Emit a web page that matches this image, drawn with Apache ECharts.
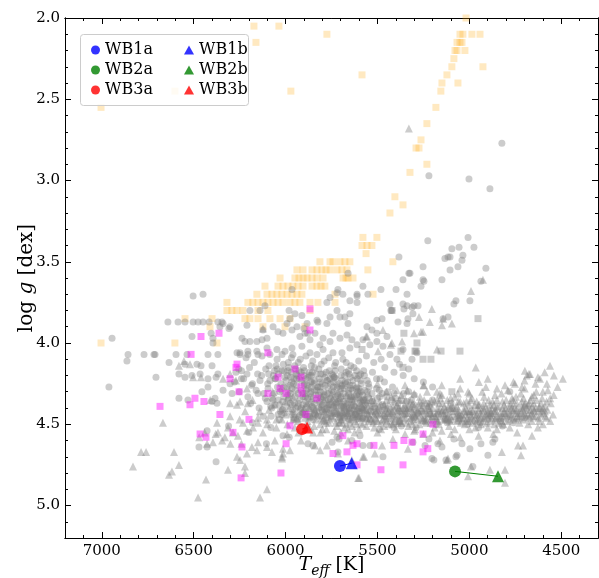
<!DOCTYPE html>
<html>
<head>
<meta charset="utf-8">
<script src="https://cdn.jsdelivr.net/npm/echarts@6/dist/echarts.min.js"></script>
<style>
html,body{margin:0;padding:0;background:#fff;}
#chart{width:599px;height:578px;}
</style>
</head>
<body>
<div id="chart"></div>
<script>
// ---------- data ----------
var xTicks = [4500, 5000, 5500, 6000, 6500, 7000];
var yTicks = [2.0, 2.5, 3.0, 3.5, 4.0, 4.5, 5.0];
var xMinorTicks = [4300,4400,4500,4600,4700,4800,4900,5000,5100,5200,5300,5400,5500,5600,5700,5800,5900,6000,6100,6200,6300,6400,6500,6600,6700,6800,6900,7000,7100,7200];
var yMinorTicks = [2.0,2.1,2.2,2.3,2.4,2.5,2.6,2.7,2.8,2.9,3.0,3.1,3.2,3.3,3.4,3.5,3.6,3.7,3.8,3.9,4.0,4.1,4.2,4.3,4.4,4.5,4.6,4.7,4.8,4.9,5.0,5.1,5.2];

var orangeSquares = [
[6172,2.05],[6036,2.05],[6161,2.15],[5971,2.45],[7004,2.55],[6602,2.45],[5775,2.10],[5584,2.35],
[5018,2.00],[5051,2.10],[5035,2.10],[4986,2.10],[4942,2.10],[5067,2.15],[5051,2.15],[5040,2.15],
[5078,2.20],[5067,2.20],[5024,2.20],[5084,2.25],[5095,2.30],[4926,2.30],[5122,2.35],[5149,2.40],[5062,2.40],
[5155,2.45],[5182,2.55],[5231,2.65],[5263,2.75],[5290,2.80],[5274,2.80],[5231,2.90],[5323,2.95],
[5405,3.10],[5361,3.15],[5432,3.20],[5579,3.35],[5503,3.35],[5584,3.40],[5557,3.40],[5530,3.40],[5562,3.45],
[5416,3.50],[5813,3.50],[5758,3.50],[5742,3.50],[5704,3.50],[5677,3.50],[5650,3.50],
[5938,3.55],[5905,3.55],[5856,3.55],[5829,3.55],[5802,3.55],[5780,3.55],[5758,3.55],[5720,3.55],[5693,3.55],[5666,3.55],[5552,3.55],
[6030,3.60],[5949,3.60],[5927,3.60],[5905,3.60],[5883,3.60],[5856,3.60],[5829,3.60],[5796,3.60],[5687,3.60],[5660,3.60],[5633,3.60],[5671,3.60],
[6112,3.65],[6041,3.65],[6014,3.65],[5987,3.65],[5960,3.65],[5932,3.65],[5905,3.65],[5856,3.65],[5829,3.65],[5807,3.65],[5786,3.65],
[6156,3.70],[6101,3.70],[6074,3.70],[6047,3.70],[6020,3.70],[5992,3.70],[5965,3.70],[5938,3.70],[5911,3.70],[5731,3.70],[5524,3.70],
[6319,3.75],[6205,3.75],[6178,3.75],[6150,3.75],[6123,3.75],[6096,3.75],[6068,3.75],[6041,3.75],[6014,3.75],[5976,3.75],[5949,3.75],[5922,3.75],[5867,3.75],[5824,3.75],[5731,3.75],
[6319,3.80],[6292,3.80],[6265,3.80],[6232,3.80],[6150,3.80],[6096,3.80],[5867,3.80],
[6547,3.85],[6400,3.85],[6221,3.85],[6194,3.85],[6150,3.85],[6085,3.85],[6030,3.85],[5976,3.85],
[6411,3.90],[6123,3.90],[6003,3.90],[5894,3.90],
[7004,4.00],[6602,4.00],[6373,4.00]
];

var grayCircles = [
[6944,3.97],[6640,3.87],[6585,3.87],[6547,3.87],[6503,3.87],[6476,3.87],[6449,3.87],[6416,3.87],[6368,3.87],[6346,3.87],
[6509,3.96],[6405,3.94],[6395,3.97],[6395,4.00],[6308,3.91],[6503,3.71],[6449,3.70],[6302,3.90],[6210,3.89],[6340,3.88],[6357,3.90],
[6857,4.07],[6770,4.07],[6716,4.07],[6710,4.07],[6596,4.07],[6536,4.07],[6422,4.07],[6368,4.07],[6248,4.07],[6205,4.07],[6150,4.07],[6085,4.07],[6019,4.07],[5960,4.07],
[6863,4.11],[6634,4.12],[6547,4.13],[6482,4.13],[6460,4.14],[6400,4.14],[6705,4.21],[6580,4.19],[6547,4.21],[6509,4.20],[6465,4.19],
[6422,4.22],[6378,4.21],[6368,4.19],[6961,4.27],[6580,4.34],[6531,4.35],[6455,4.30],[6422,4.27],[6384,4.34],[6340,4.29],[6302,4.25],
[6291,4.31],[6427,4.54],[6471,4.64],[6427,4.64],[6378,4.73],[6400,4.36],[6373,4.37],[6270,4.18],[6240,4.22],[6255,4.16],
[6139,3.80],[6112,3.77],[6194,3.80],[5965,3.67],[5981,3.80],[5911,3.83],[5900,3.91],[5880,3.94],[5715,3.67],[5660,3.57],[5650,3.74],[5611,3.70],[5579,3.65],
[5481,3.67],[5399,3.67],[5339,3.70],[5361,3.61],[5323,3.57],[5252,3.53],[5247,3.62],[5263,3.65],[5149,3.61],[5133,3.48],[5116,3.47],
[4823,2.77],[5220,2.97],[5002,2.99],[4888,3.05],[5007,3.35],[5226,3.37],[5095,3.42],[5056,3.41],[4975,3.41],[5383,3.47],[5105,3.47],
[5040,3.49],[5035,3.46],[5105,3.55],[5062,3.53],[4910,3.54],[5329,3.57],[5252,3.61],[4937,3.62],[5432,3.76],[5427,3.80],[5356,3.79],
[5312,3.78],[5307,3.82],[5279,3.77],[5073,3.74],[5084,3.76],[4997,3.74],[5116,3.84],[5334,3.85],[5143,3.85],[5339,3.77],[5301,3.77],[5339,3.88],
[5611,3.71],[5552,3.70],[5421,3.80],[5361,3.76],[5388,3.87],[5611,3.75],[5720,3.80],[5758,3.84],[5704,3.84],[5660,3.88],[5775,3.88],[5824,3.87],
[5650,3.82],[5557,3.90],[5530,3.92],[5503,3.94],[5829,3.86],[5883,3.88],[5949,3.82],[5976,3.85],[5775,3.75],[5758,3.72],[5720,3.69],[5688,3.70],[5677,3.84],[5503,3.86],[5475,3.85],
[5611,4.01],[5639,3.98],[5666,3.95],[5704,3.97],[5742,3.94],[5758,3.99],[5796,3.97],[5813,4.01],[5840,3.94],[5867,3.98],[5894,3.94],[5922,3.96],
[5938,3.90],[5965,3.92],[5992,3.88],[6014,3.94],[6041,3.93],[6068,3.90],[6101,3.97],[6128,3.98],[6156,3.99],[6194,3.99],[6221,3.99],[6237,3.97],[6123,3.92],
[6264,4.06],[6248,4.06],[6205,4.05],[6156,4.05],[6101,4.03],[6047,4.04],[6003,4.05],[5965,4.03],[5911,4.02],[5867,4.06],[5829,4.07],[5796,4.04],[5742,4.06],[5693,4.06],[5650,4.03],
[5579,3.98],[5541,4.01],[5503,3.99],[5448,3.96],[5470,4.02],[5432,4.07],[5394,4.10],[5361,4.04],[5312,4.10],[5285,4.06],
[5520,4.12],[5460,4.15],[5410,4.18],[5360,4.20],[5300,4.22],[5250,4.24],[5200,4.27],[5480,4.10],[5380,4.13],[5330,4.16],
[6215,4.09],[6170,4.12],[6128,4.08],[6090,4.14],[6046,4.10],[6012,4.13],[5968,4.09],[5931,4.12],[5889,4.08],[5852,4.11],[5806,4.13],[5765,4.09],[5727,4.12],[5688,4.10],[5645,4.14],[5602,4.11],[5560,4.08],
[6240,4.17],[6196,4.15],[6152,4.19],[6108,4.16],[6066,4.20],[6021,4.17],[5983,4.15],[5942,4.19],[5898,4.17],[5861,4.20],[5819,4.16],[5779,4.18],[5736,4.21],[5697,4.16],[5655,4.19],[5613,4.17],[5571,4.20],[5527,4.18],[5486,4.22],
[6278,4.24],[6228,4.22],[6185,4.26],[6139,4.23],[6097,4.25],[6054,4.22],[6009,4.27],[5966,4.24],[5924,4.22],[5882,4.26],[5843,4.23],[5801,4.25],[5759,4.22],[5718,4.27],[5675,4.24],[5634,4.26],[5592,4.23],[5549,4.25],[5505,4.28],[5462,4.24],[5418,4.27],
[6252,4.30],[6205,4.33],[6160,4.29],[6118,4.31],[6073,4.34],[6031,4.30],[5988,4.32],[5947,4.29],[5905,4.33],[5863,4.30],[5822,4.32],[5780,4.35],[5740,4.30],[5699,4.33],[5657,4.29],[5615,4.32],[5573,4.35],[5530,4.31],[5488,4.33],[5445,4.30],[5402,4.34],[5358,4.31],[5315,4.35],
[6190,4.37],[6144,4.40],[6101,4.36],[6058,4.38],[6016,4.41],[5974,4.37],[5932,4.39],[5890,4.36],[5848,4.40],[5806,4.38],[5765,4.41],[5724,4.37],[5683,4.40],[5641,4.38],[5599,4.42],[5556,4.37],[5514,4.40],[5472,4.38],[5430,4.41],[5388,4.37],[5345,4.40],[5302,4.38],[5260,4.42],[5218,4.39],
[6122,4.45],[6040,4.44],[5955,4.47],[5870,4.45],[5790,4.48],[5705,4.46],[5620,4.44],[5540,4.47],[5460,4.45],[5380,4.48],[5300,4.46],[5215,4.44],[5130,4.47],[5050,4.45],[4970,4.48],
[5250,4.48],[5180,4.50],[5120,4.49],[5010,4.50],[4950,4.52],[4900,4.47],[4820,4.51],[4760,4.49],[4700,4.46],[5300,4.32],[5200,4.35],[5100,4.37],[4780,4.30],
[5950,4.14],[5915,4.18],[5878,4.21],[5842,4.15],[5808,4.19],[5771,4.23],[5733,4.14],[5698,4.20],[5662,4.24],[5628,4.15],[5591,4.19],[5556,4.23],
[5965,4.28],[5932,4.31],[5897,4.25],[5861,4.33],[5826,4.27],[5793,4.30],[5757,4.34],[5721,4.26],[5686,4.31],[5650,4.35],[5617,4.28],[5581,4.32],[5546,4.27],
[5944,4.40],[5908,4.43],[5873,4.38],[5838,4.44],[5802,4.41],[5768,4.35],[5732,4.43],[5697,4.39],[5662,4.45],[5627,4.41],[5592,4.36],[5557,4.44],[5522,4.39],
[6130,4.20],[6095,4.28],[6060,4.17],[6025,4.25],[5990,4.20],[6110,4.34],[6075,4.40],[6040,4.35],[6005,4.43],[6150,4.31],[6180,4.25],[6210,4.19],
[5985,4.12],[5920,4.10],[5860,4.14],[5790,4.11],[5730,4.17],[5670,4.12],[5610,4.22],[5570,4.29],[5500,4.34],[5460,4.41],[5420,4.35],[5380,4.42],
[5340,4.36],[5280,4.43],[5230,4.37],[5170,4.44],[5110,4.41],[5060,4.48],[5000,4.44],[4940,4.49],[4880,4.45],[4830,4.48],
[5955,4.22],[5888,4.29],[5815,4.36],[5748,4.19],[5680,4.28],[5640,4.33],[5600,4.40],[5535,4.42],[5475,4.31],[5505,4.22],[5850,4.47],[5780,4.44],[5710,4.49],[5650,4.47],[5580,4.46],
[6085,4.23],[6062,4.31],[6038,4.19],[6015,4.36],[5992,4.27],[5969,4.44],[5946,4.16],[5923,4.35],[5900,4.26],[5877,4.42],[5854,4.18],[5831,4.29],
[5808,4.45],[5785,4.21],[5762,4.38],[5739,4.27],[5716,4.44],[5693,4.23],[5670,4.37],[5647,4.21],[5624,4.39],[5601,4.28],[5578,4.41],[5555,4.30],
[6078,4.45],[6052,4.14],[6028,4.42],[6004,4.21],[5980,4.34],[5957,4.25],[5934,4.47],[5911,4.23],[5887,4.40],[5864,4.24],[5841,4.37],[5818,4.22],
[5795,4.33],[5772,4.46],[5749,4.29],[5726,4.40],[5703,4.30],[5680,4.43],[5657,4.31],[5634,4.46],[5611,4.34],[5588,4.25],[5565,4.38],
[5970,4.18],[5940,4.26],[5905,4.38],[5870,4.20],[5835,4.32],[5800,4.42],[5770,4.27],[5735,4.35],[5700,4.45],[5670,4.18],[5635,4.29],[5600,4.37],[5565,4.47],
[5985,4.35],[5950,4.44],[5915,4.29],[5880,4.34],[5845,4.25],[5810,4.30],[5775,4.40],[5740,4.24],[5705,4.37],[5670,4.33],[5635,4.42],[5600,4.32],
[6045,4.16],[6020,4.29],[5995,4.39],[5972,4.21],[5948,4.33],[5925,4.45],[5902,4.15],[5878,4.28],[5855,4.39],[5832,4.19],[5808,4.34],[5785,4.26],
[5762,4.17],[5738,4.39],[5715,4.32],[5692,4.26],[5668,4.41],[5645,4.28],[5622,4.20],[5598,4.45],[5575,4.17],
[6032,4.38],[6008,4.17],[5984,4.30],[5961,4.41],[5937,4.20],[5914,4.40],[5890,4.22],[5866,4.46],[5843,4.29],[5820,4.40],[5796,4.19],[5773,4.31],
[5749,4.43],[5726,4.22],[5702,4.34],[5679,4.20],[5655,4.40],[5632,4.23],[5608,4.30],[5585,4.43],
[5930,4.37],[5860,4.27],[5790,4.37],[5720,4.31],[5650,4.26],[5580,4.36],[5895,4.44],[5825,4.45],[5755,4.25],[5685,4.36],[5615,4.47],[5545,4.34],
[6092,4.19],[6068,4.35],[6044,4.27],[6021,4.44],[5997,4.23],[5974,4.31],[5951,4.37],[5927,4.17],[5904,4.31],[5881,4.45],[5857,4.24],[5834,4.35],
[5811,4.27],[5787,4.41],[5764,4.31],[5741,4.20],[5717,4.36],[5694,4.43],[5671,4.25],[5647,4.33],[5624,4.44],[5601,4.20],[5577,4.35],
[6081,4.39],[6057,4.22],[6034,4.47],[6010,4.33],[5987,4.17],[5963,4.38],[5940,4.22],[5916,4.44],[5893,4.33],[5869,4.18],[5846,4.41],[5822,4.27],
[5799,4.38],[5775,4.23],[5752,4.45],[5728,4.33],[5705,4.25],[5681,4.39],[5658,4.17],[5634,4.35],[5611,4.27],[5587,4.40],
[5975,4.26],[5920,4.41],[5865,4.31],[5810,4.24],[5755,4.38],[5700,4.28],[5645,4.43],[5590,4.30],[5955,4.46],[5900,4.20],[5845,4.43],[5790,4.32],[5735,4.21],[5680,4.46],[5625,4.33],
[5530,4.36],[5510,4.44],[5490,4.29],[5470,4.39],[5450,4.33],[5430,4.45],[5410,4.31],[5390,4.40],[5370,4.35],[5350,4.44],[5330,4.30],[5310,4.41],
[6310,4.51],[6200,4.55],[6080,4.52],[5980,4.58],[5878,4.62],[5851,4.63],[5747,4.61],[5715,4.67],[5720,4.58],[5595,4.57],[5579,4.63],[5490,4.53],
[5470,4.70],[5541,4.63],[5639,4.60],[5709,4.59],[5410,4.52],[5370,4.51],[5307,4.61],[5241,4.63],[5220,4.59],[5171,4.62],[5149,4.64],[5067,4.69],
[4997,4.65],[4937,4.62],[4899,4.69],[4872,4.61],[4861,4.59],[5084,4.59],[5204,4.71],[5193,4.72],[5127,4.72],[5073,4.70],[4981,4.76],[5290,4.52],
[5040,4.62],[6014,4.57],[6104,4.62],[6180,4.49]
];

var grayTriangles = [
[5329,2.68],[4926,3.61],[4991,3.68],[5204,3.79],[5274,3.84],[5215,3.87],[5149,3.89],[5095,3.88],[5143,3.85],[5263,3.93],[5252,3.93],[6123,3.91],
[5470,3.92],[5557,3.96],[5421,4.00],[5366,3.99],[5497,4.05],[5562,3.96],[5427,4.01],[5301,3.94],[5176,4.04],[5247,4.26],[5160,4.31],
[6580,4.14],[6553,4.11],[6520,4.13],[6503,4.21],[6340,4.22],[6302,4.19],[6270,4.23],
[5905,4.42],[5880,4.48],[5862,4.36],[5845,4.51],[5830,4.44],[5812,4.39],[5795,4.47],[5778,4.53],[5760,4.41],[5745,4.34],[5728,4.49],[5712,4.45],[5695,4.38],
[5680,4.52],[5663,4.43],[5647,4.47],[5630,4.36],[5614,4.50],[5598,4.41],[5582,4.45],[5566,4.33],[5550,4.48],[5534,4.39],[5518,4.52],[5502,4.43],
[5488,4.36],[5472,4.47],[5456,4.41],[5440,4.50],[5425,4.33],[5410,4.44],[5394,4.38],[5378,4.48],[5362,4.42],[5347,4.35],[5331,4.51],[5315,4.45],
[5300,4.39],[5284,4.47],[5268,4.33],[5252,4.42],[5236,4.49],[5220,4.37],[5205,4.45],[5189,4.52],[5173,4.40],[5157,4.34],[5141,4.47],[5126,4.43],[5110,4.51],
[5094,4.38],[5078,4.45],[5062,4.31],[5046,4.49],[5031,4.41],[5015,4.36],[4999,4.47],[4983,4.42],[4967,4.52],[4952,4.38],[4936,4.45],[4920,4.33],
[4904,4.49],[4888,4.41],[4873,4.36],[4857,4.46],[4841,4.39],[4825,4.31],[4810,4.43],[4794,4.48],[4778,4.37],[4762,4.42],[4746,4.33],[4731,4.46],[4715,4.39],
[4699,4.28],[4683,4.41],[4668,4.35],[4652,4.45],[4636,4.30],[4620,4.39],[4604,4.34],[4589,4.42],[4573,4.29],[4557,4.37],[4541,4.32],[4545,4.44],
[5890,4.31],[5850,4.55],[5805,4.46],[5770,4.37],[5735,4.54],[5700,4.41],[5665,4.32],[5625,4.55],[5590,4.37],[5555,4.43],[5520,4.35],[5480,4.53],
[5445,4.40],[5405,4.47],[5370,4.32],[5335,4.43],[5295,4.53],[5260,4.37],[5225,4.44],[5190,4.36],[5150,4.42],[5115,4.39],[5080,4.53],[5050,4.36],
[5020,4.44],[4985,4.34],[4955,4.47],[4925,4.40],[4895,4.35],[4865,4.50],[4830,4.45],[4800,4.35],[4770,4.45],[4740,4.40],[4705,4.34],[4675,4.46],
[4640,4.40],[4610,4.44],[4580,4.36],
[5860,4.45],[5790,4.42],[5720,4.36],[5650,4.40],[5580,4.50],[5510,4.46],[5440,4.37],[5380,4.44],[5320,4.40],[5240,4.46],[5180,4.43],[5120,4.35],
[5060,4.41],[5000,4.38],[4940,4.43],[4880,4.46],[4820,4.40],[4760,4.38],[4700,4.43],[4650,4.37],[4600,4.40],
[5870,4.40],[5835,4.47],[5800,4.33],[5765,4.49],[5730,4.42],[5695,4.47],[5660,4.36],[5625,4.45],[5590,4.49],[5555,4.38],[5520,4.44],[5485,4.41],
[5450,4.46],[5415,4.39],[5380,4.35],[5345,4.46],[5310,4.42],[5275,4.38],[5240,4.41],[5205,4.36],[5170,4.48],[5135,4.39],[5100,4.45],[5065,4.48],
[5030,4.37],[4995,4.42],[4960,4.36],[4925,4.48],[4890,4.38],[4855,4.42],[4820,4.36],[4785,4.41],[4750,4.47],[4715,4.36],[4680,4.38],[4645,4.42],[4610,4.37],[4575,4.41],
[5885,4.37],[5848,4.43],[5812,4.50],[5776,4.40],[5740,4.46],[5704,4.34],[5668,4.50],[5632,4.44],[5596,4.33],[5560,4.46],[5524,4.49],[5488,4.44],
[5452,4.35],[5416,4.50],[5380,4.46],[5344,4.40],[5308,4.37],[5272,4.50],[5236,4.43],[5200,4.40],[5164,4.37],[5128,4.46],[5092,4.42],[5056,4.44],
[5020,4.40],[4984,4.49],[4948,4.41],[4912,4.44],[4876,4.40],[4840,4.49],[4804,4.40],[4768,4.34],[4732,4.43],[4696,4.37],[4660,4.33],[4624,4.46],[4588,4.39],
[5895,4.46],[5858,4.34],[5822,4.42],[5786,4.48],[5750,4.36],[5714,4.43],[5678,4.39],[5642,4.34],[5606,4.43],[5570,4.41],[5534,4.35],[5498,4.48],
[5462,4.38],[5426,4.43],[5390,4.49],[5354,4.38],[5318,4.48],[5282,4.41],[5246,4.35],[5210,4.47],[5174,4.35],[5138,4.43],[5102,4.34],[5066,4.39],
[5030,4.46],[4994,4.35],[4958,4.44],[4922,4.37],[4886,4.48],[4850,4.35],[4814,4.46],[4778,4.44],[4742,4.37],[4706,4.47],[4670,4.41],[4634,4.35],[4598,4.43],
[5690,4.45],[5655,4.41],[5620,4.48],[5585,4.39],[5550,4.44],[5515,4.37],[5480,4.49],[5445,4.43],[5410,4.36],[5375,4.41],[5340,4.49],[5305,4.44],
[5270,4.36],[5235,4.47],[5200,4.43],[5165,4.50],[5130,4.41],[5095,4.47],[5060,4.36],[5025,4.50],[4990,4.45],[4955,4.40],[4920,4.46],[4885,4.43],
[4850,4.39],[4815,4.50],[4780,4.39],[4745,4.43],[4710,4.41],[4675,4.37],[4640,4.45],[4605,4.41],
[5672,4.37],[5637,4.51],[5602,4.46],[5567,4.35],[5532,4.47],[5497,4.40],[5462,4.51],[5427,4.46],[5392,4.42],[5357,4.47],[5322,4.36],[5287,4.43],
[5252,4.47],[5217,4.41],[5182,4.46],[5147,4.37],[5112,4.44],[5077,4.40],[5042,4.44],[5007,4.48],[4972,4.38],[4937,4.50],[4902,4.42],[4867,4.38],
[4832,4.43],[4797,4.45],[4762,4.35],[4727,4.49],[4692,4.45],[4657,4.39],[4622,4.42],[4587,4.45],
[5660,4.46],[5610,4.40],[5560,4.51],[5510,4.42],[5460,4.45],[5410,4.48],[5360,4.44],[5310,4.50],[5260,4.40],[5210,4.43],[5160,4.45],[5110,4.47],
[5060,4.43],[5010,4.46],[4960,4.48],[4910,4.39],[4860,4.47],[4810,4.38],[4760,4.46],[4710,4.44],[4660,4.48],
[5745,4.43],[5705,4.49],[5665,4.42],[5625,4.38],[5585,4.46],[5545,4.41],[5505,4.47],[5465,4.43],[5425,4.49],[5385,4.40],[5345,4.43],[5305,4.47],
[5265,4.44],[5225,4.39],[5185,4.45],[5145,4.41],[5105,4.48],[5065,4.44],[5025,4.42],[4985,4.46],[4945,4.38],[4905,4.45],[4865,4.42],[4825,4.48],
[4785,4.44],[4745,4.41],[4705,4.40],[4665,4.44],
[5730,4.39],[5690,4.42],[5650,4.49],[5610,4.44],[5570,4.39],[5530,4.42],[5490,4.39],[5450,4.48],[5410,4.41],[5370,4.49],[5330,4.39],[5290,4.45],
[5250,4.38],[5210,4.49],[5170,4.42],[5130,4.47],[5090,4.40],[5050,4.46],[5010,4.42],[4970,4.44],[4930,4.42],[4890,4.44],[4850,4.45],[4810,4.42],
[4770,4.40],[4730,4.45],[4690,4.39],[4650,4.41],
[5780,4.44],[5740,4.38],[5700,4.47],[5660,4.43],[5620,4.42],[5580,4.40],[5540,4.46],[5500,4.41],[5460,4.47],[5420,4.42],[5380,4.48],[5340,4.41],
[5300,4.44],[5260,4.46],[5220,4.40],[5180,4.47],[5140,4.44],[5100,4.40],[5060,4.46],[5020,4.48],[4980,4.41],[4940,4.46],[4900,4.43],[4860,4.41],
[4820,4.44],[4780,4.47],[4740,4.45],[4700,4.38],[4660,4.43],[4620,4.40],
[5760,4.47],[5720,4.42],[5680,4.44],[5640,4.38],[5600,4.45],[5560,4.41],[5520,4.48],[5480,4.44],[5440,4.42],[5400,4.45],[5360,4.40],[5320,4.46],
[5280,4.42],[5240,4.48],[5200,4.45],[5160,4.41],[5120,4.46],[5080,4.42],[5040,4.47],[5000,4.42],[4960,4.44],[4920,4.41],[4880,4.43],[4840,4.46],
[4800,4.43],[4760,4.41],[4720,4.42],[4680,4.44],
[6050,4.52],[6020,4.40],[5990,4.50],[5960,4.42],[5930,4.48],[5900,4.40],[5870,4.52],[5840,4.41],[5810,4.55],[5780,4.49],[5750,4.45],[5720,4.51],[5690,4.49],[5660,4.53],
[5300,4.31],[5230,4.30],[5150,4.32],[5080,4.33],[5000,4.31],[4930,4.30],[4860,4.32],[4790,4.29],[4720,4.31],[4650,4.32],[4600,4.30],[4560,4.34],
[4520,4.27],[4540,4.20],[4590,4.18],[4640,4.25],[4700,4.23],[4760,4.24],[4850,4.28],[4900,4.22],[5050,4.22],[5150,4.26],[5350,4.26],[5500,4.25],[5550,4.31],
[5800,4.53],[5700,4.55],[5600,4.53],[5500,4.55],[5400,4.53],[5300,4.54],[5200,4.55],[5150,4.54],[5100,4.56],[5000,4.53],[4900,4.52],[4850,4.53],
[4780,4.52],[4680,4.50],[4620,4.48],[4580,4.46],
[6180,4.35],[6140,4.42],[6100,4.50],[6060,4.38],[6020,4.47],[5980,4.40],[5940,4.46],[6150,4.46],[6070,4.30],[6000,4.36],[5960,4.33],[6220,4.42],[6250,4.47],[6210,4.28],
[5250,4.26],[5176,4.30],[4948,4.24],[4910,4.27],[5007,4.30],[4698,4.17],[4670,4.19],[4561,4.14],[4491,4.22],[4806,4.26],[4752,4.25],[4714,4.27],
[4627,4.21],[4578,4.25],[4965,4.15],[5394,4.29],[5339,4.29],[4676,4.19],[4687,4.20],[4616,4.22],[5050,4.28],[5450,4.30],[5600,4.29],[5690,4.26],[5750,4.31],
[4659,4.57],[4627,4.52],[4735,4.63],[4708,4.63],[4823,4.67],[4719,4.69],[5122,4.72],[5007,4.82],[4888,4.78],[4806,4.78],[4806,4.86],[5812,4.66],
[5840,4.63],[5600,4.83],[5715,4.68],[5660,4.60],[5579,4.70],[5475,4.63],[5416,4.59],[5334,4.65],[5160,4.60],[5116,4.71],[4991,4.76],[5639,4.72],
[6101,4.90],[6139,4.95],[6014,4.68],[6019,4.71],[5916,4.60],[5775,4.63],[5605,4.83],[5514,4.68],[5573,4.70],[6221,4.80],[6221,4.76],[6210,4.68],
[6183,4.64],[6156,4.66],[4600,4.50],[4560,4.48],[4740,4.55],[4870,4.56],[4950,4.57],[5050,4.58],[5250,4.56],[5350,4.56],
[6667,4.49],[6786,4.67],[6759,4.67],[6607,4.67],[6580,4.75],[6830,4.76],[6618,4.79],[6634,4.81],[6433,4.84],[6476,4.95],[6313,4.78],[6264,4.70],
[6248,4.72],[6368,4.55],[6313,4.52],[6286,4.55],[6259,4.57],[6232,4.49],[6210,4.54],[6177,4.52],[6150,4.49],[6123,4.55],[6101,4.47],[6150,4.61],
[6101,4.64],[6058,4.60],[6074,4.67],[6019,4.70],[6014,4.65],[5992,4.56],[5976,4.66],[5960,4.47],[6302,4.45],[6373,4.49],[6427,4.62],[6395,4.61],
[6264,4.38],[6302,4.37],[6248,4.36],[6205,4.37],[6460,4.21],[6410,4.35],[6470,4.58],[6440,4.55],[6380,4.56],[6345,4.60],[6330,4.58],[6300,4.62],
[6240,4.62],[6090,4.41],[6050,4.47],[6000,4.44],[5950,4.52],[5930,4.55]
];

var graySquares = [
[4953,3.85],[5285,4.00],[5290,4.05],[5154,4.05],[5051,4.05],[5252,4.10],[5209,4.10],[5095,4.30],[5421,3.80],[5356,3.94],[5372,4.05],[5296,4.05],[5361,4.15],[5584,4.04]
];

var magentaSquares = [
[6460,3.96],[6362,3.94],[6514,4.07],[6264,4.13],[6270,4.15],[6302,4.22],[6253,4.30],[6493,4.34],[6520,4.38],[6444,4.36],[6683,4.39],[6357,4.44],
[6465,4.56],[6433,4.58],[6286,4.55],[6237,4.64],[6242,4.83],[6199,4.47],[6025,4.80],[5997,4.62],[5976,4.51],[5997,4.31],[6030,4.28],[6096,4.31],
[5867,3.79],[5867,3.92],[6096,4.06],[5949,4.16],[6041,4.21],[5916,4.21],[5916,4.27],[5911,4.31],[5829,4.34],[5889,4.44],[5688,4.57],[5633,4.63],
[5611,4.62],[5519,4.63],[5410,4.63],[5356,4.60],[5312,4.61],[5742,4.68],[5666,4.67],[5361,4.75],[5481,4.78],[5611,4.75],[5252,4.56],[5226,4.65],
[5252,4.67],[5198,4.50]
];

var wb1a = [[5704, 4.757]];
var wb1b = [[5640, 4.74]];
var wb2a = [[5078, 4.79]];
var wb2b = [[4844, 4.82]];
var wb3a = [[5910, 4.53]];
var wb3b = [[5883, 4.52]];

// ---------- chart ----------
var FONT = 'DejaVu Serif';
var chart = echarts.init(document.getElementById('chart'), null, {renderer: 'canvas'});

function xAxisDef(pos, ticks, len, labels, extra) {
  var a = {
    type: 'value', min: 4300, max: 7200, inverse: true, position: pos,
    axisLine: {show: true, onZero: false, lineStyle: {color: '#000', width: 1}},
    axisTick: {show: true, inside: true, length: len, customValues: ticks, lineStyle: {color: '#000', width: 1}},
    axisLabel: labels ? {show: true, customValues: ticks, fontFamily: FONT, fontSize: 15, color: '#000', margin: 6,
      formatter: function (v) { return String(v); }} : {show: false},
    splitLine: {show: false}
  };
  return Object.assign(a, extra || {});
}
function yAxisDef(pos, ticks, len, labels, extra) {
  var a = {
    type: 'value', min: 2.0, max: 5.2, inverse: true, position: pos,
    axisLine: {show: true, onZero: false, lineStyle: {color: '#000', width: 1}},
    axisTick: {show: true, inside: true, length: len, customValues: ticks, lineStyle: {color: '#000', width: 1}},
    axisLabel: labels ? {show: true, customValues: ticks, fontFamily: FONT, fontSize: 15, color: '#000', margin: 5,
      formatter: function (v) { return v.toFixed(1); }} : {show: false},
    splitLine: {show: false}
  };
  return Object.assign(a, extra || {});
}

function scatter(name, data, symbol, size, color, z) {
  return {type: 'scatter', name: name, data: data, symbol: symbol, symbolSize: size,
    itemStyle: {color: color}, z: z, silent: true, large: false};
}

var option = {
  animation: false,
  backgroundColor: '#fff',
  grid: {left: 65, right: 1, top: 18, bottom: 40, containLabel: false, outerBoundsMode: 'none'},
  xAxis: [
    xAxisDef('bottom', xTicks, 6, true, {
      name: '{i|T}{s|eff}{n| [K]}', nameLocation: 'middle', nameGap: 18, nameMoveOverlap: false,
      nameTextStyle: {rich: {
        i: {fontFamily: FONT, fontStyle: 'italic', fontSize: 19, color: '#000', lineHeight: 22, verticalAlign: 'top'},
        s: {fontFamily: FONT, fontStyle: 'italic', fontSize: 14, color: '#000', lineHeight: 12, verticalAlign: 'bottom'},
        n: {fontFamily: FONT, fontSize: 19, color: '#000', lineHeight: 22, verticalAlign: 'top'}
      }}
    }),
    xAxisDef('bottom', xMinorTicks, 3, false),
    xAxisDef('top', xTicks, 6, false),
    xAxisDef('top', xMinorTicks, 3, false)
  ],
  yAxis: [
    yAxisDef('left', yTicks, 6, true, {
      name: '{n|log }{i|g}{n| [dex]}', nameLocation: 'middle', nameGap: 28, nameRotate: 90, nameMoveOverlap: false,
      nameTextStyle: {rich: {
        i: {fontFamily: FONT, fontStyle: 'italic', fontSize: 20, color: '#000'},
        n: {fontFamily: FONT, fontSize: 20, color: '#000'}
      }}
    }),
    yAxisDef('left', yMinorTicks, 3, false),
    yAxisDef('right', yTicks, 6, false),
    yAxisDef('right', yMinorTicks, 3, false)
  ],
  legend: [
    {data: [{name: 'WB1a', icon: 'circle'}, {name: 'WB2a', icon: 'circle'}, {name: 'WB3a', icon: 'circle'}],
     orient: 'vertical', left: 86, top: 37, itemWidth: 9, itemHeight: 9, itemGap: 4,
     textStyle: {fontFamily: FONT, fontSize: 16, color: '#000'}},
    {data: [{name: 'WB1b', icon: 'triangle'}, {name: 'WB2b', icon: 'triangle'}, {name: 'WB3b', icon: 'triangle'}],
     orient: 'vertical', left: 179, top: 37, itemWidth: 10, itemHeight: 9, itemGap: 4,
     textStyle: {fontFamily: FONT, fontSize: 16, color: '#000'}}
  ],
  graphic: [{
    type: 'rect', left: 80, top: 34, z: 100, silent: true,
    shape: {width: 168, height: 71, r: 3},
    style: {fill: 'rgba(255,255,255,0.8)', stroke: '#cccccc', lineWidth: 1}
  }],
  series: [
    scatter('orange', orangeSquares, 'rect', 7, 'rgba(255,165,0,0.3)', 2),
    scatter('grayC', grayCircles, 'circle', 7, 'rgba(128,128,128,0.5)', 3),
    scatter('grayT', grayTriangles, 'triangle', 8, 'rgba(128,128,128,0.5)', 3),
    scatter('grayS', graySquares, 'rect', 7, 'rgba(128,128,128,0.5)', 3),
    scatter('magenta', magentaSquares, 'rect', 7, 'rgba(255,0,255,0.55)', 4),
    {type: 'line', data: wb1a.concat(wb1b), symbol: 'none', lineStyle: {color: '#0000ff', width: 1}, z: 5, silent: true},
    {type: 'line', data: wb2a.concat(wb2b), symbol: 'none', lineStyle: {color: '#008000', width: 1}, z: 5, silent: true},
    {type: 'line', data: wb3a.concat(wb3b), symbol: 'none', lineStyle: {color: '#ff0000', width: 1}, z: 5, silent: true},
    scatter('WB1a', wb1a, 'circle', 12, '#0000ff', 6),
    scatter('WB1b', wb1b, 'triangle', 12, '#0000ff', 6),
    scatter('WB2a', wb2a, 'circle', 12, '#008000', 6),
    scatter('WB2b', wb2b, 'triangle', 12, '#008000', 6),
    scatter('WB3a', wb3a, 'circle', 12, '#ff0000', 6),
    scatter('WB3b', wb3b, 'triangle', 12, '#ff0000', 6)
  ]
};
option.legend.forEach(function (l) { l.z = 110; });
chart.setOption(option);
</script>
</body>
</html>
